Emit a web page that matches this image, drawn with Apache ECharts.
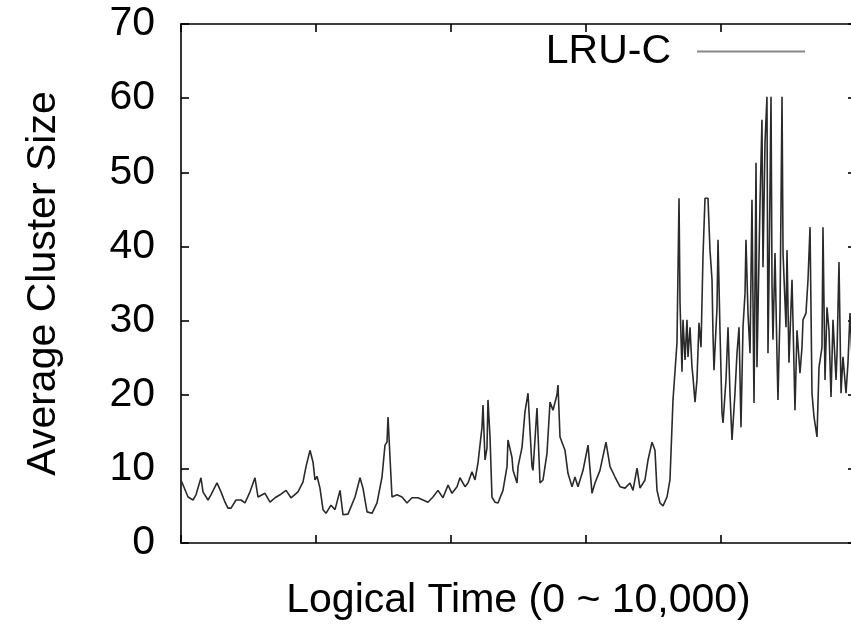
<!DOCTYPE html>
<html>
<head>
<meta charset="utf-8">
<script src="https://cdn.jsdelivr.net/npm/echarts@6/dist/echarts.min.js"></script>
<style>
html,body{margin:0;padding:0;background:#fff;}
#chart{width:851px;height:629px;}
</style>
</head>
<body>
<div id="chart"></div>
<script>
const seriesName = 'LRU-C';
const xTitle = 'Logical Time (0 ~ 10,000)';
const yTitle = 'Average Cluster Size';
const yTicks = [0, 10, 20, 30, 40, 50, 60, 70];
const xTicks = [0, 2000, 4000, 6000, 8000, 10000];

const times = [0,104,178,222,296,326,400,444,533,593,
652,696,741,815,889,948,1022,1096,1141,1244,
1319,1393,1467,1556,1630,1733,1807,1852,1911,1956,
1985,2015,2059,2104,2148,2222,2282,2356,2400,2474,
2578,2652,2696,2756,2830,2904,2978,3022,3052,3067,
3096,3126,3200,3274,3348,3422,3511,3585,3659,3733,
3807,3881,3956,4015,4089,4133,4207,4252,4311,4356,
4400,4459,4474,4504,4533,4548,4578,4607,4652,4696,
4770,4830,4844,4904,4919,4978,4993,5052,5096,5141,
5170,5200,5215,5274,5289,5319,5363,5422,5467,5511,
5570,5585,5615,5689,5733,5793,5837,5881,5956,6030,
6089,6133,6207,6296,6356,6430,6504,6578,6652,6696,
6756,6800,6874,6919,6978,7022,7052,7096,7141,7200,
7244,7289,7348,7378,7393,7422,7437,7467,7496,7511,
7541,7570,7585,7615,7644,7674,7704,7733,7763,7807,
7837,7867,7881,7896,7941,7956,7985,8015,8030,8074,
8104,8133,8163,8207,8237,8267,8296,8326,8356,8370,
8400,8430,8459,8489,8519,8533,8578,8607,8622,8652,
8681,8696,8711,8741,8756,8770,8800,8830,8844,8874,
8904,8919,8963,8978,9007,9052,9067,9096,9126,9170,
9200,9215,9259,9289,9319,9348,9378,9422,9452,9496,
9511,9541,9570,9600,9630,9659,9704,9719,9748,9778,
9807,9852,9881,9911,9956,10000];

const clusterSize = [8.5,6.2,5.8,6.5,8.8,6.9,5.8,6.5,8.1,6.9,
5.5,4.7,4.7,5.8,5.8,5.4,6.9,8.8,6.2,6.7,
5.5,6.1,6.5,7.1,6.1,6.9,8.2,10.3,12.5,10.9,
8.5,9.0,7.4,4.5,4.0,5.1,4.5,7.1,3.8,3.9,
6.2,8.8,7.4,4.2,4.0,5.4,8.9,13.2,13.6,17.0,
11.6,6.2,6.5,6.2,5.4,6.1,6.1,5.8,5.5,6.2,
7.1,6.1,7.8,6.7,7.6,8.8,7.6,8.1,9.6,8.5,
10.8,15.6,18.6,11.2,12.8,19.3,14.3,6.2,5.5,5.4,
7.1,10.3,13.9,11.5,9.8,8.1,10.3,12.9,17.7,20.2,
15.2,10.3,9.8,18.2,14.8,8.1,8.5,12.1,19.0,17.9,
20.0,21.3,14.3,12.5,9.4,7.6,8.9,7.6,9.8,13.2,
6.7,8.1,9.8,13.6,10.3,8.9,7.6,7.4,8.1,7.1,
10.1,7.4,8.5,11.2,13.6,12.5,7.1,5.4,5.0,6.2,
8.5,19.3,27.0,46.5,32.4,23.1,30.1,24.7,30.1,25.1,
29.1,23.7,22.4,19.0,22.0,29.7,26.4,38.6,46.5,46.5,
39.5,35.5,28.3,23.3,31.8,40.9,28.7,17.5,16.2,22.0,
29.1,20.2,13.9,20.2,25.6,29.1,15.6,29.1,33.7,40.9,
31.0,25.6,46.3,18.9,51.3,23.7,45.9,57.1,37.2,54.0,
60.2,25.6,35.5,60.2,34.5,27.4,39.1,25.1,19.3,31.0,
60.2,39.1,29.1,39.5,24.3,35.5,29.7,17.9,28.7,22.9,
26.4,30.1,31.0,35.5,42.6,20.2,17.0,14.3,23.7,26.4,
42.6,22.0,31.8,28.7,19.7,30.1,22.0,25.6,37.9,20.2,
25.1,20.2,24.3,31.0,22.0,25.0];

const FONT = '"Liberation Sans", Arial, Helvetica, sans-serif';
const pts = times.map((t, i) => [t, clusterSize[i]]);

function axisLine() { return {show: true, onZero: false, lineStyle: {color: '#000', width: 1.6}}; }
function tick() { return {show: true, inside: true, length: 8, lineStyle: {color: '#000', width: 1.6}}; }

const chart = echarts.init(document.getElementById('chart'), null, {renderer: 'canvas'});
chart.setOption({
  animation: false,
  backgroundColor: '#fff',
  textStyle: {fontFamily: FONT, color: '#000'},
  grid: {left: 181, right: -5, top: 24, bottom: 86, containLabel: false, outerBoundsMode: 'none',
         show: false},
  legend: {
    show: true,
    data: [seriesName],
    right: 45, top: 31, padding: 0,
    align: 'right',
    itemWidth: 108, itemHeight: 20,
    lineStyle: {color: '#888', width: 2},
    itemStyle: {opacity: 0, color: 'rgba(0,0,0,0)', borderWidth: 0},
    textStyle: {fontFamily: FONT, fontSize: 41, color: '#000', padding: [0, 21, 0, 0]}
  },
  xAxis: [{
    type: 'value', min: xTicks[0], max: xTicks[xTicks.length - 1], interval: xTicks[1] - xTicks[0],
    position: 'bottom',
    name: xTitle, nameLocation: 'middle', nameGap: 37,
    nameTextStyle: {fontFamily: FONT, fontSize: 41, color: '#000'},
    axisLine: axisLine(), axisTick: tick(), axisLabel: {show: false}, splitLine: {show: false}
  }, {
    type: 'value', min: xTicks[0], max: xTicks[xTicks.length - 1], interval: xTicks[1] - xTicks[0],
    position: 'top',
    axisLine: axisLine(), axisTick: tick(), axisLabel: {show: false}, splitLine: {show: false}
  }],
  yAxis: [{
    type: 'value', min: yTicks[0], max: yTicks[yTicks.length - 1], interval: yTicks[1] - yTicks[0],
    position: 'left',
    name: yTitle, nameLocation: 'middle', nameGap: 117, nameRotate: 90,
    nameTextStyle: {fontFamily: FONT, fontSize: 41, color: '#000'},
    axisLine: axisLine(), axisTick: tick(),
    axisLabel: {show: true, margin: 26, fontFamily: FONT, fontSize: 41, color: '#000'},
    splitLine: {show: false}
  }, {
    type: 'value', min: yTicks[0], max: yTicks[yTicks.length - 1], interval: yTicks[1] - yTicks[0],
    position: 'right',
    axisLine: axisLine(), axisTick: tick(), axisLabel: {show: false}, splitLine: {show: false}
  }],
  series: [{
    name: seriesName,
    type: 'line',
    xAxisIndex: 0, yAxisIndex: 0,
    data: pts,
    symbol: 'none',
    showSymbol: false,
    lineStyle: {color: '#2a2a2a', width: 1.6},
    itemStyle: {color: '#2a2a2a'}
  }]
});
</script>
</body>
</html>
